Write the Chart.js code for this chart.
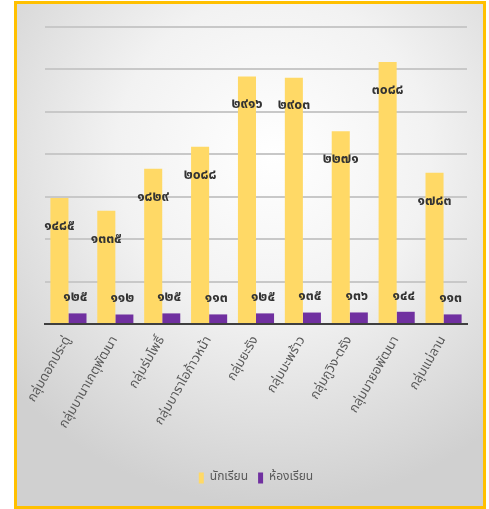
<!DOCTYPE html>
<html>
<head>
<meta charset="utf-8">
<script src="https://cdn.jsdelivr.net/npm/chart.js@4.4.1/dist/chart.umd.min.js"></script>
<style>
  html, body { margin: 0; padding: 0; background: #ffffff; }
  #wrap { position: relative; width: 489px; height: 509px; }
  #frame {
    position: absolute; left: 14px; top: 1px; width: 466px; height: 502px;
    border: 3px solid #FFC000;
    background: radial-gradient(ellipse 75% 70% at 55% 30%, #ffffff 0%, #f2f2f2 45%, #d0d0d0 100%);
  }
  canvas { position: absolute; left: 0; top: 0; }
</style>
</head>
<body>
<div id="wrap">
  <div id="frame"></div>
  <canvas id="lienzoGrafica" width="489" height="509"></canvas>
</div>
<script>
'use strict';

const thaiFont = "'Noto Sans Thai', 'Noto Sans', 'DejaVu Sans', sans-serif";

// กลุ่มเครือข่าย
const categorias = [
    'กลุ่มดอกประดู่',
    'กลุ่มบานาเกตุพัฒนา',
    'กลุ่มร่มโพธิ์',
    'กลุ่มบาราโอก้าวหน้า',
    'กลุ่มยะรัง',
    'กลุ่มมะพร้าว',
    'กลุ่มกูวิง-ตรัง',
    'กลุ่มมายอพัฒนา',
    'กลุ่มแม่ลาน'
];
const nombreSerie1 = 'นักเรียน';
const nombreSerie2 = 'ห้องเรียน';
const estudiantes = [1485, 1335, 1829, 2088, 2916, 2903, 2271, 3088, 1783];
const aulas = [125, 112, 125, 113, 125, 135, 136, 144, 113];
const ejeY = { min: 0, max: 3500, paso: 500 };

// números en dígitos tailandeses
const digitosThai = ['๐', '๑', '๒', '๓', '๔', '๕', '๖', '๗', '๘', '๙'];
function aThai(n) {
    return String(n).split('').map(c => digitosThai[parseInt(c)]).join('');
}

// etiquetas encima / dentro de las barras
const etiquetas = {
    id: 'etiquetas',
    afterDatasetsDraw(chart) {
        const ctx = chart.ctx;
        ctx.save();
        ctx.font = 'bold 14px ' + thaiFont;
        ctx.fillStyle = '#333333';
        ctx.textAlign = 'center';
        ctx.textBaseline = 'middle';
        chart.getDatasetMeta(0).data.forEach((bar, i) => {
            ctx.fillText(aThai(chart.data.datasets[0].data[i]), bar.x, bar.y + 29);
        });
        chart.getDatasetMeta(1).data.forEach((bar, i) => {
            ctx.fillText(aThai(chart.data.datasets[1].data[i]), bar.x - 2, bar.y - 15);
        });
        ctx.restore();
    }
};

let ctx = document.getElementById('lienzoGrafica');

const myChart = new Chart(ctx, {
    type: 'bar',
    data: {
        labels: categorias,
        datasets: [{
            label: nombreSerie1,
            data: estudiantes,
            backgroundColor: '#FFD966',
            borderWidth: 0,
            categoryPercentage: 0.77,
            barPercentage: 1.0
        },
        {
            label: nombreSerie2,
            data: aulas,
            backgroundColor: '#7030A0',
            borderWidth: 0,
            categoryPercentage: 0.77,
            barPercentage: 1.0
        }]
    },
    options: {
        responsive: false,
        animation: false,
        layout: {
            padding: { left: 45, right: 22, top: 27, bottom: 15 }
        },
        plugins: {
            legend: {
                position: 'bottom',
                labels: {
                    font: { family: thaiFont, size: 12 },
                    color: '#595959',
                    boxWidth: 5,
                    boxHeight: 11,
                    padding: 10
                }
            },
            tooltip: { enabled: false }
        },
        scales: {
            x: {
                grid: { display: false },
                border: { display: true, color: '#3f3f3f', width: 2 },
                ticks: {
                    font: { family: thaiFont, size: 13 },
                    color: '#595959',
                    maxRotation: 60,
                    minRotation: 60,
                    padding: 2
                },
                afterFit(scale) {
                    scale.height = 138;
                }
            },
            y: {
                min: ejeY.min,
                max: ejeY.max,
                ticks: { stepSize: ejeY.paso, display: false },
                grid: { color: '#c8c8c8', lineWidth: 2, drawTicks: false },
                border: { display: false }
            }
        }
    },
    plugins: [etiquetas]
});
</script>
</body>
</html>
